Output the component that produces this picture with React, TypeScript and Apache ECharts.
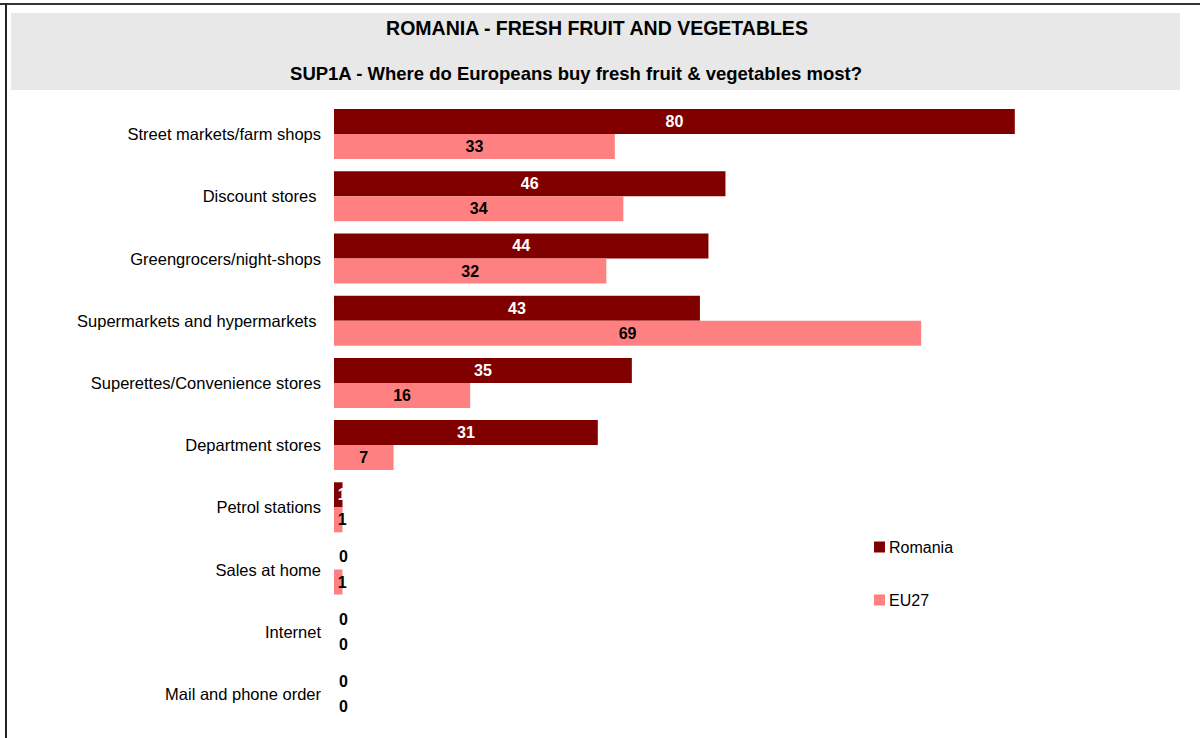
import React, { useEffect, useRef } from "react";
import * as echarts from "echarts";

const categories = [
  "Street markets/farm shops",
  "Discount stores ",
  "Greengrocers/night-shops",
  "Supermarkets and hypermarkets ",
  "Superettes/Convenience stores",
  "Department stores",
  "Petrol stations",
  "Sales at home",
  "Internet",
  "Mail and phone order",
];
const romania = [80, 46, 44, 43, 35, 31, 1, 0, 0, 0];
const eu27 = [33, 34, 32, 69, 16, 7, 1, 1, 0, 0];

const FONT = "'Liberation Sans', Arial, sans-serif";

function makeData(values: number[], color: string) {
  return values.map((v) => {
    if (v === 0) {
      return {
        value: v,
        label: { position: "right", distance: 5, color: "#000" },
      };
    }
    if (v <= 2) {
      return { value: v, label: { position: "inside", offset: [4, 0] } };
    }
    return { value: v, label: { color } };
  });
}

export default function App() {
  const ref = useRef<HTMLDivElement>(null);
  useEffect(() => {
    const chart = echarts.init(ref.current!, null, { renderer: "svg" });
    chart.setOption({
      animation: false,
      backgroundColor: "#fff",
      textStyle: { fontFamily: FONT },
      graphic: [
        { type: "line", shape: { x1: 0, y1: 4, x2: 1200, y2: 4 }, style: { stroke: "#333", lineWidth: 2 } },
        { type: "line", shape: { x1: 6, y1: 3, x2: 6, y2: 738 }, style: { stroke: "#222", lineWidth: 2 } },
        { type: "rect", shape: { x: 11, y: 13, width: 1169, height: 77 }, style: { fill: "#e8e8e8" }, z: -1 },
        {
          type: "text",
          x: 597,
          y: 28,
          style: { text: "ROMANIA - FRESH FRUIT AND VEGETABLES", font: `bold 19.5px ${FONT}`, fill: "#000", align: "center", verticalAlign: "middle" },
        },
        {
          type: "text",
          x: 576,
          y: 73,
          style: { text: "SUP1A - Where do Europeans buy fresh fruit & vegetables most?", font: `bold 18.5px ${FONT}`, fill: "#000", align: "center", verticalAlign: "middle" },
        },
      ],
      legend: {
        orient: "vertical",
        left: 874,
        top: 539,
        padding: 0,
        icon: "rect",
        itemWidth: 11,
        itemHeight: 11,
        itemGap: 37,
        textStyle: { fontSize: 16, color: "#000", fontFamily: FONT, padding: [0, 0, 0, -1] },
        data: ["Romania", "EU27"],
      },
      grid: { left: 334, top: 103, width: 851, height: 622, containLabel: false },
      xAxis: { type: "value", min: 0, max: 100, show: false },
      yAxis: {
        type: "category",
        inverse: true,
        data: categories,
        axisLine: { show: false },
        axisTick: { show: false },
        axisLabel: { fontSize: 16.5, color: "#000", margin: 13, fontFamily: FONT },
      },
      series: [
        {
          name: "Romania",
          type: "bar",
          data: makeData(romania, "#fff"),
          itemStyle: { color: "#800000" },
          barGap: "0%",
          barCategoryGap: "19.6%",
          label: { show: true, position: "inside", color: "#fff", fontWeight: "bold", fontSize: 16, fontFamily: FONT },
        },
        {
          name: "EU27",
          type: "bar",
          data: makeData(eu27, "#000"),
          itemStyle: { color: "#ff8080" },
          barGap: "0%",
          barCategoryGap: "19.6%",
          label: { show: true, position: "inside", color: "#000", fontWeight: "bold", fontSize: 16, fontFamily: FONT },
        },
      ],
    });
    return () => chart.dispose();
  }, []);
  return <div ref={ref} style={{ position: "fixed", left: 0, top: 0, width: 1200, height: 738 }} />;
}
